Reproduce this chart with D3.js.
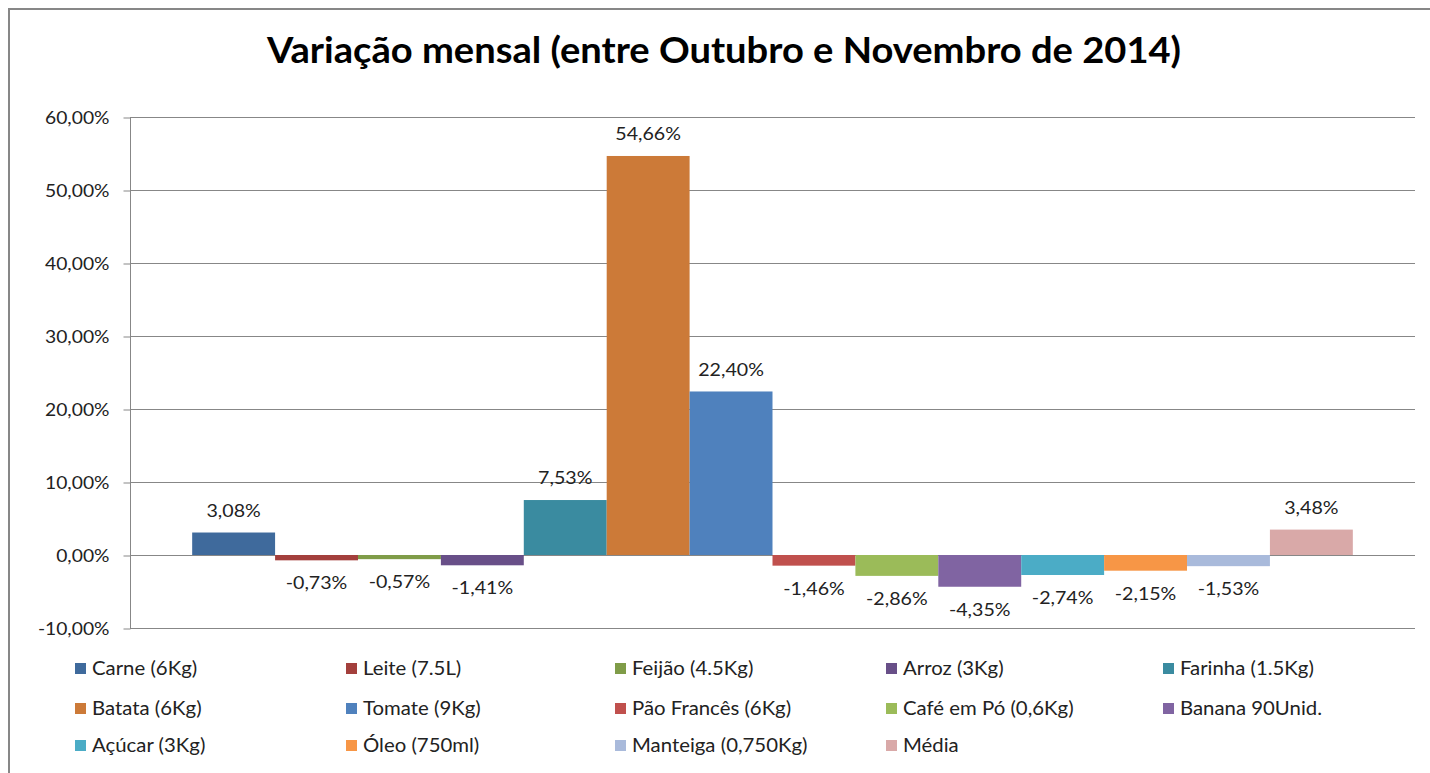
<!DOCTYPE html>
<html><head><meta charset="utf-8">
<script src="https://cdn.jsdelivr.net/npm/d3@7"></script>
<style>body{margin:0;background:#fff}svg{display:block}</style>
</head><body>
<script>
const title = "Variação mensal (entre Outubro e Novembro de 2014)";
const seriesNames = ["Carne (6Kg)","Leite (7.5L)","Feijão (4.5Kg)","Arroz (3Kg)","Farinha (1.5Kg)","Batata (6Kg)","Tomate (9Kg)","Pão Francês (6Kg)","Café em Pó (0,6Kg)","Banana 90Unid.","Açúcar (3Kg)","Óleo (750ml)","Manteiga (0,750Kg)","Média"];
const values = [3.08,-0.73,-0.57,-1.41,7.53,54.66,22.40,-1.46,-2.86,-4.35,-2.74,-2.15,-1.53,3.48];
const colors = ["#3F6A9C","#A33F3C","#7F9C48","#684F88","#3A8BA0","#CC7A38","#4F81BD","#C0504D","#9BBB59","#8064A2","#4BACC6","#F79646","#A9BADB","#D9A9A8"];
const yTicks = [-10,0,10,20,30,40,50,60];

const W=1430,H=773;
const svg=d3.select("body").append("svg").attr("width",W).attr("height",H);
const FONT="Lato, 'DejaVu Sans', sans-serif";
const pct=d=>d3.format(".2f")(d).replace(".",",").replace("\u2212","-")+"%";

// outer border
svg.append("rect").attr("x",9).attr("y",9).attr("width",1440).attr("height",800)
  .attr("fill","none").attr("stroke","#878787").attr("stroke-width",2);

const L=130,R=1415,T=117,B=628;
const y=d3.scaleLinear().domain([-10,60]).range([B,T]);
const x=d3.scaleBand().domain(seriesNames).range([L,R]).paddingInner(0).paddingOuter(0.75);

function stretch(sel,k){
  sel.each(function(){
    const t=d3.select(this);
    const w=this.getComputedTextLength();
    t.attr("textLength",w*k).attr("lengthAdjust","spacingAndGlyphs");
  });
}

// gridlines
svg.append("g").selectAll("line").data(yTicks).join("line")
  .attr("x1",L).attr("x2",R).attr("y1",d=>Math.round(y(d))+0.5).attr("y2",d=>Math.round(y(d))+0.5)
  .attr("stroke","#878787").attr("stroke-width",1);

// y axis
const yAxis=d3.axisLeft(y).tickValues(yTicks).tickSize(7).tickPadding(14).tickFormat(pct);
const ga=svg.append("g").attr("transform",`translate(${L+0.5},0.5)`).call(yAxis);
ga.select(".domain").attr("stroke","#878787").attr("d",`M0,${T}V${B}`);
ga.selectAll(".tick line").attr("stroke","#878787");
ga.selectAll(".tick text").attr("font-family",FONT).attr("font-size",17.5).attr("fill","#222").attr("dy","0.35em");
stretch(ga.selectAll(".tick text"),1.1);
ga.selectAll(".tick text").attr("x",-21);

// bars
svg.append("g").selectAll("rect").data(values).join("rect")
  .attr("x",(d,i)=>x(seriesNames[i])).attr("width",x.bandwidth())
  .attr("y",d=>y(Math.max(0,d))).attr("height",d=>Math.abs(y(d)-y(0)))
  .attr("fill",(d,i)=>colors[i]);

// data labels
const lab=svg.append("g").selectAll("text").data(values).join("text")
  .attr("x",(d,i)=>x(seriesNames[i])+x.bandwidth()/2)
  .attr("y",d=>d>=0?y(d)-22:y(d)+23)
  .attr("dy","0.35em").attr("text-anchor","middle")
  .attr("font-family",FONT).attr("font-size",17.5).attr("fill","#222")
  .text(pct);
stretch(lab,1.12);

// title
const tt=svg.append("text").attr("x",724).attr("y",63).attr("text-anchor","middle")
  .attr("font-family",FONT).attr("font-weight","bold").attr("font-size",37).attr("fill","#000").text(title);
stretch(tt,1.03);

// legend
const colX=[75,346,615,886,1163], rowY=[669,709,746];
const lg=svg.append("g").selectAll("g").data(seriesNames).join("g")
  .attr("transform",(d,i)=>`translate(${colX[i%5]},${rowY[Math.floor(i/5)]})`);
lg.append("rect").attr("x",0).attr("y",-6).attr("width",11).attr("height",11).attr("fill",(d,i)=>colors[i]);
const lt=lg.append("text").attr("x",17).attr("dy","0.35em").attr("font-family",FONT).attr("font-size",18.5).attr("fill","#222").text(d=>d);
stretch(lt,1.1);
</script>
</body></html>
